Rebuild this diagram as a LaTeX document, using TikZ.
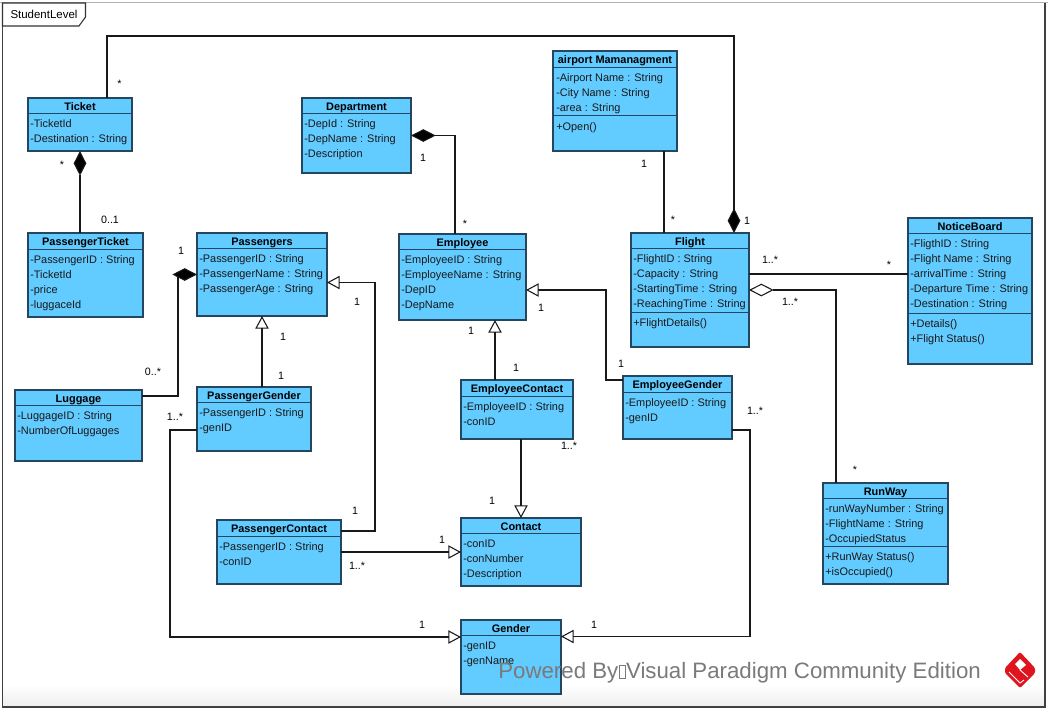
\documentclass[tikz,border=0pt]{standalone}
\usepackage{fontspec}
\setmainfont{Liberation Sans}
\usetikzlibrary{arrows.meta,positioning}
\definecolor{clsfill}{HTML}{62CBFF}
\definecolor{clsline}{HTML}{24465E}
\definecolor{wm}{HTML}{7A7A7A}
\definecolor{logored}{HTML}{E0141E}
\newcommand{\umlclass}[8]{%
  \node[clsbox,minimum width={(#4-#2)*0.75pt},minimum height={(#5-#3)*0.75pt}] (#1) at ({(#2+#4)/2},{(#3+#5)/2}) {};
  \node[clstitle] (#1T) at ({(#2+#4)/2},{(#3+#6)/2+0.8}) {#8};
  \draw[clssep] (#2,#6) -- (#4,#6);
  \ifx\relax#7\relax\else\draw[clssep] (#2,#7) -- (#4,#7);\fi
}
\tikzset{
  dx/.style={xshift=#1*0.75pt},
  dy/.style={yshift=-#1*0.75pt},
  clsbox/.style={draw=clsline,fill=clsfill,line width=0.8pt,inner sep=0pt,outer sep=0pt},
  clstitle/.style={font=\fontsize{8.2}{10}\selectfont\bfseries,inner sep=0pt,text=black,text height=5.9pt,text depth=0pt},
  clssep/.style={draw=clsline,line width=0.75pt},
  members/.style={font=\fontsize{8.2}{11.25}\selectfont,inner sep=0pt,anchor=north west,align=left,text=black!90,yshift=-3pt},
  mult/.style={font=\fontsize{8}{10}\selectfont,inner sep=0pt,text=black},
  conn/.style={draw=black!90,line width=0.8pt},
  filleddia/.style={conn,-{Diamond[length=18.5pt,width=9.5pt,fill=black]}},
  opendia/.style={conn,-{Diamond[length=18.5pt,width=9.5pt,open]}},
  gentri/.style={conn,-{Triangle[length=9.5pt,width=10pt,open]}},
}
\begin{document}
\begin{tikzpicture}[x=0.75pt,y=-0.75pt]
\useasboundingbox (0,0) rectangle (1048,711);
\fill[white] (0,0) rectangle (1048,711);
% frame
\shade[top color=white,bottom color=black!7] (3,685) rectangle (1045,707);
\draw[black!30,line width=0.8pt] (0,2.5) -- (1048,2.5);
\draw[black!75,line width=0.8pt] (2.5,2.5) -- (2.5,707) -- (1045,707) -- (1045,2.5);
\draw[black!80,fill=white,line width=0.8pt] (2.5,3) -- (85.5,3) -- (85.5,17) -- (79,26) -- (2.5,26) -- cycle;
\node[font=\fontsize{8.6}{10}\selectfont,inner sep=0pt] (frameT) at (44,14) {StudentLevel};
% classes
\umlclass{Ticket}{28}{98}{132}{151}{113}{}{Ticket}
\node[members] (TicketA) at (30,115.5) {-TicketId\\-Destination : String};
\umlclass{Department}{302}{98}{411}{173}{113}{}{Department}
\node[members] (DepartmentA) at (304,115.5) {-DepId : String\\-DepName : String\\-Description};
\umlclass{Airport}{553}{51}{677}{151}{67}{115}{airport Mamanagment}
\node[members] (AirportA) at (556,69) {-Airport Name : String\\-City Name : String\\-area : String};
\node[members] (AirportM) at (556,118) {+Open()};
\umlclass{PTicket}{28}{233}{143}{317}{249}{}{PassengerTicket}
\node[members] (PTicketA) at (30,251) {-PassengerID : String\\-TicketId\\-price\\-luggaceId};
\umlclass{Passengers}{197}{233}{327}{316}{248}{}{Passengers}
\node[members] (PassengersA) at (199,250.5) {-PassengerID : String\\-PassengerName : String\\-PassengerAge : String};
\umlclass{Employee}{399}{234}{526}{320}{249}{}{Employee}
\node[members] (EmployeeA) at (401,251) {-EmployeeID : String\\-EmployeeName : String\\-DepID\\-DepName};
\umlclass{Flight}{631}{233}{749}{347}{248}{312}{Flight}
\node[members] (FlightA) at (633,250.5) {-FlightID : String\\-Capacity : String\\-StartingTime : String\\-ReachingTime : String};
\node[members] (FlightM) at (633,314.5) {+FlightDetails()};
\umlclass{Notice}{908}{218}{1032}{364}{233}{313}{NoticeBoard}
\node[members] (NoticeA) at (910,235.5) {-FligthID : String\\-Flight Name : String\\-arrivalTime : String\\-Departure Time : String\\-Destination : String};
\node[members] (NoticeM) at (910,315.5) {+Details()\\+Flight Status()};
\umlclass{Luggage}{15}{390}{142}{461}{405}{}{Luggage}
\node[members] (LuggageA) at (17,407) {-LuggageID : String\\-NumberOfLuggages};
\umlclass{PGender}{197}{387}{311}{451}{402}{}{PassengerGender}
\node[members] (PGenderA) at (199,404.5) {-PassengerID : String\\-genID};
\umlclass{EContact}{461}{380}{573}{439}{396}{}{EmployeeContact}
\node[members] (EContactA) at (463,398) {-EmployeeID : String\\-conID};
\umlclass{EGender}{623}{376}{732}{439}{392}{}{EmployeeGender}
\node[members] (EGenderA) at (625,394) {-EmployeeID : String\\-genID};
\umlclass{RunWay}{823}{483}{948}{584}{498}{546}{RunWay}
\node[members] (RunWayA) at (825,500) {-runWayNumber : String\\-FlightName : String\\-OccupiedStatus};
\node[members] (RunWayM) at (825,548.5) {+RunWay Status()\\+isOccupied()};
\umlclass{PContact}{217}{520}{341}{584}{536}{}{PassengerContact}
\node[members] (PContactA) at (219,538) {-PassengerID : String\\-conID};
\umlclass{Contact}{461}{518}{581}{586}{533}{}{Contact}
\node[members] (ContactA) at (463,535.5) {-conID\\-conNumber\\-Description};
\umlclass{Gender}{461}{620}{561}{694}{635}{}{Gender}
\node[members] (GenderA) at (463,637.5) {-genID\\-genName};
% connectors
\coordinate (topbend) at (420,36);
\coordinate (pcbend) at (375,400);
\coordinate (egbend) at (606,340);
\coordinate (pgbend) at (170,530);
\coordinate (egbend2) at (750,530);
\coordinate (lgbend) at (178,300);
\draw[filleddia] ([dx=27]Ticket.north) |- (topbend) -| ([dx=44]Flight.north);
\draw[filleddia] ([dx=-5.5]PTicket.north) -- (Ticket.south);
\draw[filleddia] ([dx=-7.5]Employee.north) |- (Department.east);
\draw[conn] ([dx=49]Airport.south) -- ([dx=-26]Flight.north);
\draw[conn] ([dy=-16]Flight.east) -- ([dy=-17]Notice.west);
\draw[opendia] ([dx=-49.5]RunWay.north) |- (Flight.east);
\draw[filleddia] ([dy=-29.5]Luggage.east) -| (lgbend) |- (Passengers.west);
\draw[gentri] ([dx=8]PGender.north) -- (Passengers.south);
\draw[gentri] ([dy=-21]PContact.east) -| (pcbend) |- ([dy=8]Passengers.east);
\draw[gentri] (PContact.east) -- (Contact.west);
\draw[gentri] ([dy=11]PGender.west) -| (pgbend) |- ([dy=-20]Gender.west);
\draw[gentri] ([dx=-22]EContact.north) -- ([dx=32.5]Employee.south);
\draw[gentri] ([dy=-27.5]EGender.west) -| (egbend) |- ([dy=13]Employee.east);
\draw[gentri] ([dx=4]EContact.south) -- (Contact.north);
\draw[gentri] ([dy=22.5]EGender.east) -| (egbend2) |- ([dy=-20.5]Gender.east);
% multiplicities
\node[mult] (m1) at (119.5,84) {*};
\node[mult] (m2) at (62,165) {*};
\node[mult] (m3) at (110,220) {0..1};
\node[mult] (m4) at (423,158) {1};
\node[mult] (m5) at (465,224) {*};
\node[mult] (m6) at (644,164) {1};
\node[mult] (m7) at (673,220) {*};
\node[mult] (m8) at (747,221) {1};
\node[mult] (m9) at (770,260) {1..*};
\node[mult] (m10) at (889,265) {*};
\node[mult] (m11) at (790,302) {1..*};
\node[mult] (m12) at (855,470) {*};
\node[mult] (m13) at (181,251) {1};
\node[mult] (m14) at (153,372) {0..*};
\node[mult] (m15) at (357,302) {1};
\node[mult] (m16) at (283,337) {1};
\node[mult] (m17) at (281,376) {1};
\node[mult] (m18) at (175,417) {1..*};
\node[mult] (m19) at (471,331) {1};
\node[mult] (m20) at (541,308) {1};
\node[mult] (m21) at (516,368) {1};
\node[mult] (m22) at (621,364) {1};
\node[mult] (m23) at (569,446) {1..*};
\node[mult] (m24) at (755,411) {1..*};
\node[mult] (m25) at (492,501) {1};
\node[mult] (m26) at (355,511) {1};
\node[mult] (m27) at (442,540) {1};
\node[mult] (m28) at (357,566) {1..*};
\node[mult] (m29) at (422,625) {1};
\node[mult] (m30) at (594,625) {1};
% watermark
\node[font=\fontsize{16.7}{20}\selectfont,text=wm,inner sep=0pt,anchor=west] (wmark) at (498,673) {Powered By\hspace{0.6pt}\textcolor{wm}{\rule[0pt]{0.5pt}{10pt}\rule[0pt]{3.6pt}{0.5pt}\rule[9.5pt]{0pt}{0pt}\hspace{-3.6pt}\rule[9.5pt]{3.6pt}{0.5pt}\rule[0pt]{0.5pt}{10pt}}\hspace{0.6pt}Visual Paradigm Community Edition};
% logo
\fill[logored,rounded corners=1pt] (1020,652) -- (1035,668) -- (1035,673) -- (1020,688) -- (1005,673) -- (1005,668) -- cycle;
\fill[white] (1015,664) -- (1020,659) -- (1026,665) -- (1020,670) -- cycle;
\draw[white,line width=0.7pt] (1020,670) -- (1028,677);
\draw[white,line width=0.7pt] (1009,672) -- (1020,683) -- (1024,680);
\end{tikzpicture}
\end{document}
